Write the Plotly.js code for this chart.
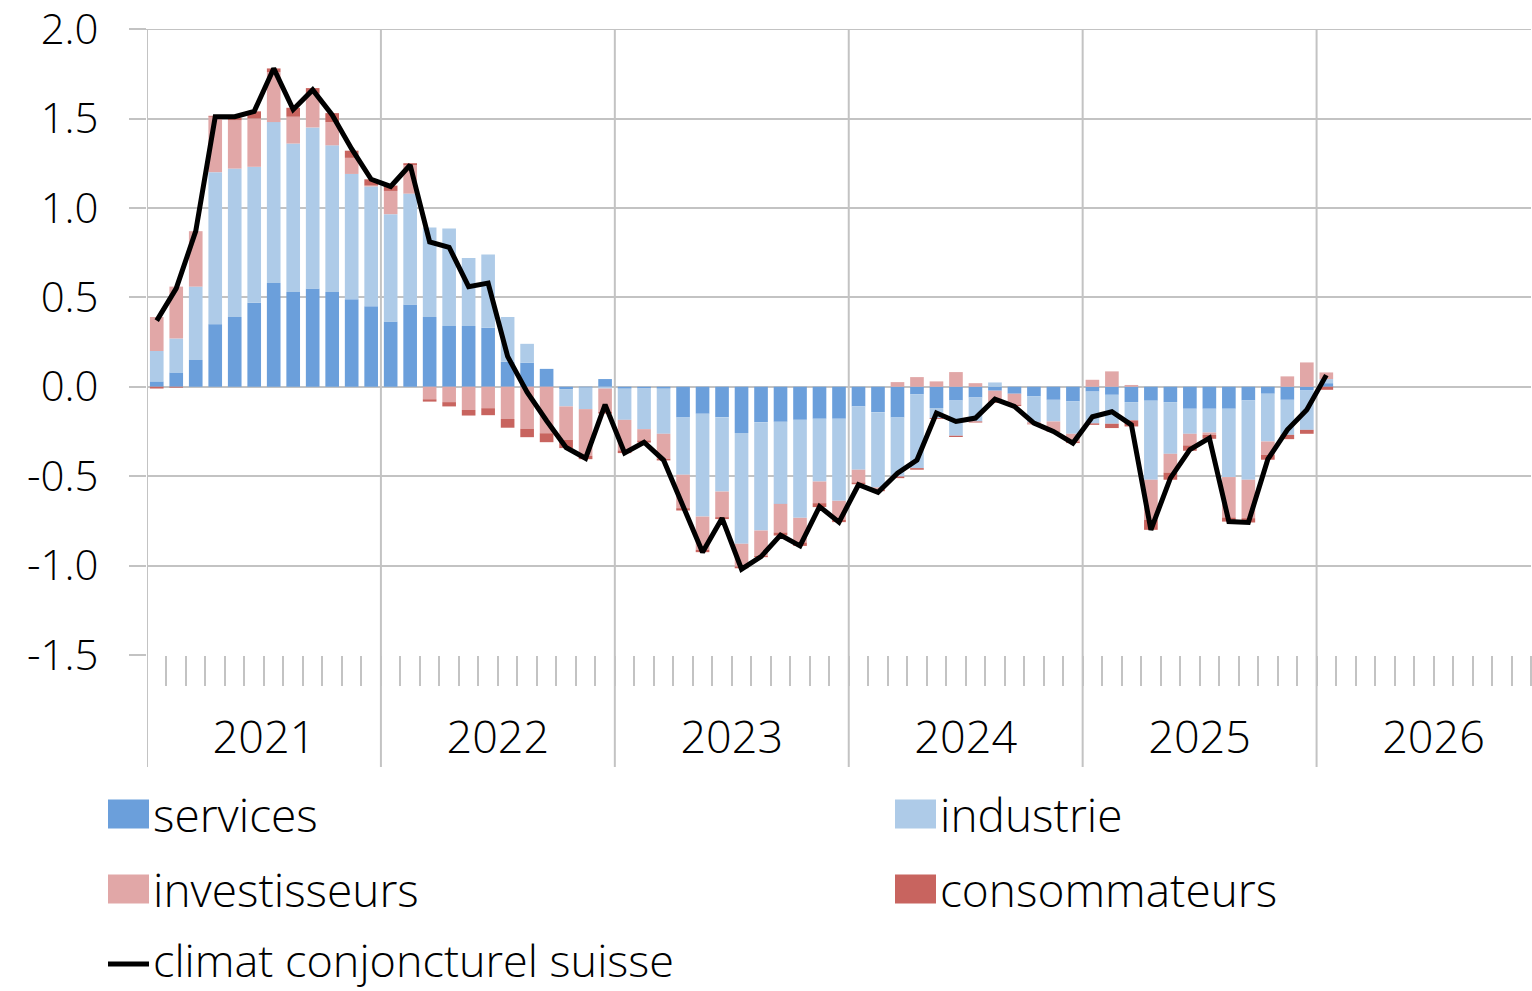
<!DOCTYPE html>
<html>
<head>
<meta charset="utf-8">
<script src="https://cdn.plot.ly/plotly-3.0.1.min.js"></script>
<style>
html,body{margin:0;padding:0;background:#fff;}
#chart{width:1532px;height:991px;}
</style>
</head>
<body>
<div id="chart"></div>
<script>
// ---- Data (monthly, Jan 2021 - Jan 2026) ----
const months = [
 '2021-01','2021-02','2021-03','2021-04','2021-05','2021-06','2021-07','2021-08','2021-09','2021-10','2021-11','2021-12',
 '2022-01','2022-02','2022-03','2022-04','2022-05','2022-06','2022-07','2022-08','2022-09','2022-10','2022-11','2022-12',
 '2023-01','2023-02','2023-03','2023-04','2023-05','2023-06','2023-07','2023-08','2023-09','2023-10','2023-11','2023-12',
 '2024-01','2024-02','2024-03','2024-04','2024-05','2024-06','2024-07','2024-08','2024-09','2024-10','2024-11','2024-12',
 '2025-01','2025-02','2025-03','2025-04','2025-05','2025-06','2025-07','2025-08','2025-09','2025-10','2025-11','2025-12',
 '2026-01'
];
const services = [
 0.03, 0.08, 0.15, 0.35, 0.39, 0.47, 0.58, 0.53, 0.55, 0.53, 0.49, 0.45,
 0.365, 0.46, 0.39, 0.34, 0.34, 0.33, 0.14, 0.135, 0.10, -0.013, -0.005, 0.043,
 -0.011, -0.01, -0.011, -0.172, -0.151, -0.17, -0.259, -0.198, -0.196, -0.185, -0.179, -0.179,
 -0.11, -0.142, -0.172, -0.043, -0.119, -0.077, -0.06, -0.022, -0.039, -0.054, -0.073, -0.082,
 -0.027, -0.045, -0.086, -0.078, -0.086, -0.123, -0.123, -0.123, -0.076, -0.039, -0.073, -0.021,
 0.02
];
const industrie = [
 0.17, 0.19, 0.41, 0.85, 0.83, 0.76, 0.90, 0.83, 0.90, 0.82, 0.70, 0.67,
 0.60, 0.62, 0.50, 0.545, 0.38, 0.41, 0.25, 0.105, 0.0, -0.097, -0.12, -0.01,
 -0.174, -0.227, -0.252, -0.32, -0.575, -0.416, -0.619, -0.606, -0.459, -0.548, -0.351, -0.459,
 -0.354, -0.421, -0.33, -0.412, -0.056, -0.197, -0.134, 0.024, 0.0, -0.144, -0.121, -0.181,
 -0.178, -0.162, -0.102, -0.442, -0.289, -0.14, -0.133, -0.382, -0.444, -0.267, -0.196, -0.22,
 0.023
];
const investisseurs = [
 0.19, 0.29, 0.31, 0.31, 0.27, 0.27, 0.28, 0.15, 0.19, 0.13, 0.09, 0.005,
 0.13, 0.16, -0.07, -0.086, -0.13, -0.12, -0.18, -0.235, -0.26, -0.187, -0.261, -0.13,
 -0.171, -0.063, -0.14, -0.187, -0.186, -0.143, -0.127, -0.142, -0.16, -0.138, -0.121, -0.106,
 -0.071, -0.013, 0.026, 0.054, 0.03, 0.082, 0.02, -0.063, -0.061, -0.009, -0.052, -0.043,
 0.039, 0.086, 0.01, -0.224, -0.105, -0.065, -0.013, -0.226, -0.215, -0.075, 0.058, 0.136,
 0.037
];
const consommateurs = [
 -0.01, -0.005, 0.0, 0.005, 0.015, 0.04, 0.02, 0.05, 0.03, 0.05, 0.04, 0.035,
 0.03, 0.01, -0.013, -0.024, -0.031, -0.039, -0.049, -0.047, -0.05, -0.046, -0.019, -0.01,
 -0.015, -0.012, -0.009, -0.013, -0.013, -0.011, -0.01, -0.007, -0.017, -0.019, -0.022, -0.013,
 -0.01, -0.008, -0.009, -0.009, -0.005, -0.007, -0.006, -0.005, -0.008, -0.003, -0.005, -0.009,
 -0.008, -0.024, -0.034, -0.056, -0.04, -0.03, -0.022, -0.023, -0.024, -0.027, -0.024, -0.022,
 -0.017
];
const climat = [
 0.37, 0.55, 0.87, 1.51, 1.51, 1.54, 1.78, 1.55, 1.66, 1.52, 1.33, 1.16,
 1.12, 1.24, 0.81, 0.78, 0.56, 0.58, 0.17, -0.03, -0.19, -0.34, -0.40, -0.10,
 -0.37, -0.31, -0.41, -0.67, -0.925, -0.735, -1.02, -0.95, -0.83, -0.89, -0.67, -0.757,
 -0.548, -0.59, -0.483, -0.41, -0.147, -0.194, -0.175, -0.069, -0.11, -0.203, -0.25, -0.315,
 -0.168, -0.14, -0.213, -0.80, -0.511, -0.352, -0.287, -0.754, -0.759, -0.405, -0.241, -0.129,
 0.065
];
const seriesNames = ['services','industrie','investisseurs','consommateurs','climat conjoncturel suisse'];
const years = ['2021','2022','2023','2024','2025','2026'];
const yTickVals = [-1.5,-1.0,-0.5,0,0.5,1.0,1.5,2.0];
const yTickText = ['-1.5','-1.0','-0.5','0.0','0.5','1.0','1.5','2.0'];

// ---- Styling ----
const colors = ['#6b9fdb','#aecbe8','#e1a7a7','#c8645f','#000000'];
const gridColor = '#c3c3c3';
const FONT = "'Open Sans', 'Noto Sans', sans-serif";
const W = 1532, H = 991;
const M = {l:147, r:1, t:29, b:336};
const XMAX = 71; // axis covers 71 month slots

// month slot index -> x centre
const xs = months.map((m,i) => i + 0.5);

const barSeries = [services, industrie, investisseurs, consommateurs];
const traces = barSeries.map((vals, k) => ({
  type:'bar', x: xs, y: vals, name: seriesNames[k],
  marker:{color: colors[k], line:{width:0}},
  width: 0.7, showlegend:false, hoverinfo:'y+name'
}));
traces.push({
  type:'scatter', mode:'lines', x: xs, y: climat, name: seriesNames[4],
  line:{color:'#000', width:5}, showlegend:false
});

// ticks at month boundaries; year label at the middle boundary of each year
const tickvals = [], ticktext = [];
for (let i = 1; i <= XMAX; i++) {
  tickvals.push(i);
  const yi = (i - 6) / 12;
  ticktext.push(Number.isInteger(yi) && yi >= 0 && yi < years.length ? years[yi] : '');
}

// helpers: pixel -> paper
const plotW = W - M.l - M.r, plotH = H - M.t - M.b;
const px2x = p => (p - M.l) / plotW;
const py2y = p => (H - M.b - p) / plotH;

const shapes = [];
// year boundary lines, extended down through the label band
years.forEach((y, k) => {
  shapes.push({type:'line', xref:'x', yref:'paper', x0:k*12, x1:k*12, y0:py2y(767), y1:1,
    line:{color:gridColor, width:2}, layer:'below'});
});
// top gridline (2.0)
shapes.push({type:'line', xref:'paper', yref:'y', x0:px2x(130), x1:1, y0:2.0, y1:2.0,
  line:{color:gridColor, width:2}, layer:'below'});

// custom legend (large swatches like the original)
const annotations = [];
const legendItems = [
  {k:0, sx:108, cy:814, ty:814}, {k:1, sx:895, cy:814, ty:814},
  {k:2, sx:108, cy:889, ty:889}, {k:3, sx:895, cy:889, ty:889},
  {k:4, sx:108, cy:964, ty:959}
];
legendItems.forEach(it => {
  if (it.k < 4) {
    shapes.push({type:'rect', xref:'paper', yref:'paper',
      x0:px2x(it.sx), x1:px2x(it.sx+41), y0:py2y(it.cy+14.5), y1:py2y(it.cy-14.5),
      fillcolor:colors[it.k], line:{width:0}});
  } else {
    shapes.push({type:'line', xref:'paper', yref:'paper',
      x0:px2x(it.sx), x1:px2x(it.sx+41), y0:py2y(it.cy), y1:py2y(it.cy),
      line:{color:'#000', width:5}});
  }
  annotations.push({xref:'paper', yref:'paper', x:px2x(it.sx+44), y:py2y(it.ty),
    xanchor:'left', yanchor:'middle', showarrow:false, text:seriesNames[it.k], borderpad:0,
    font:{family:FONT, size:(it.k === 4 ? 45 : 46), color:'#000', weight:300}});
});

const layout = {
  width:W, height:H, margin:M,
  paper_bgcolor:'#fff', plot_bgcolor:'#fff',
  barmode:'relative', bargap:0.3,
  showlegend:false,
  font:{family:FONT, size:44, color:'#000', weight:300},
  xaxis:{
    range:[0, XMAX], tickmode:'array', tickvals:tickvals, ticktext:ticktext,
    ticks:'outside', ticklen:30, tickwidth:2, tickcolor:gridColor,
    ticklabelstandoff:13,
    tickfont:{family:FONT, size:45, color:'#000', weight:300},
    showgrid:false, zeroline:false, showline:false, fixedrange:true
  },
  yaxis:{
    range:[-1.5, 2.0005], tickmode:'array',
    tickvals:yTickVals, ticktext:yTickText,
    ticks:'outside', ticklen:17, tickwidth:2, tickcolor:gridColor,
    ticklabelstandoff:22, ticklabeloverflow:'allow',
    tickfont:{family:FONT, size:42, color:'#000', weight:300},
    showgrid:true, gridcolor:gridColor, gridwidth:2,
    zeroline:false, showline:false, fixedrange:true
  },
  shapes:shapes,
  annotations:annotations
};

Plotly.newPlot('chart', traces, layout, {displayModeBar:false, staticPlot:true});
</script>
</body>
</html>
